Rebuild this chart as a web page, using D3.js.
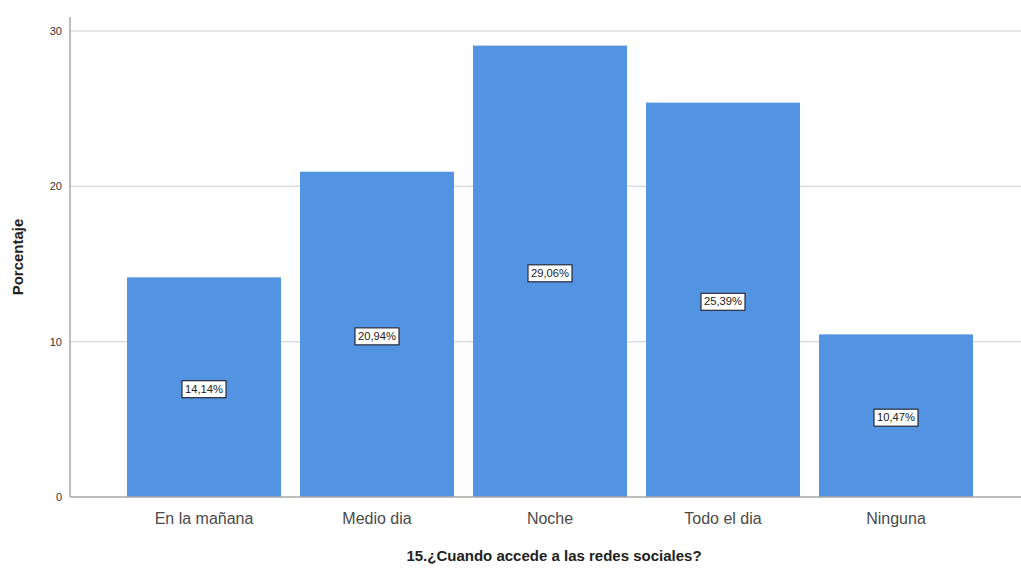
<!DOCTYPE html>
<html>
<head>
<meta charset="utf-8">
<script src="https://cdn.jsdelivr.net/npm/d3@7"></script>
<style>
  body { margin: 0; background: #fff; }
  svg { display: block; font-family: "Liberation Sans", Arial, sans-serif; }
</style>
</head>
<body>
<svg id="chart" width="1021" height="579"></svg>
<script>
const categories = ["En la mañana", "Medio dia", "Noche", "Todo el dia", "Ninguna"];
const percentages = [14.14, 20.94, 29.06, 25.39, 10.47];
const yTicks = [0, 10, 20, 30];

const svg = d3.select("#chart");
const axisX = 70, baseY = 497, topY = 17, rightX = 1021;

const x = d3.scaleBand()
  .domain(categories)
  .range([117.5, 982.5])
  .paddingInner(0.11)
  .paddingOuter(0.055);

const y = d3.scaleLinear().domain([0, 30]).range([baseY, 31]);

// gridlines
svg.append("g")
  .selectAll("line")
  .data(yTicks.filter(d => d > 0))
  .join("line")
  .attr("x1", axisX).attr("x2", rightX)
  .attr("y1", d => y(d)).attr("y2", d => y(d))
  .attr("stroke", "#dcdcdc").attr("stroke-width", 1.5);

// bars
svg.append("g")
  .selectAll("rect")
  .data(categories)
  .join("rect")
  .attr("x", d => x(d))
  .attr("width", x.bandwidth())
  .attr("y", (d, i) => y(percentages[i]))
  .attr("height", (d, i) => baseY - y(percentages[i]))
  .attr("fill", "#5294e2");

// axis lines
svg.append("line").attr("x1", axisX).attr("x2", axisX).attr("y1", topY).attr("y2", baseY)
  .attr("stroke", "#a8a8a8").attr("stroke-width", 1.5);
svg.append("line").attr("x1", axisX).attr("x2", rightX).attr("y1", baseY).attr("y2", baseY)
  .attr("stroke", "#a8a8a8").attr("stroke-width", 1.5);

// y tick labels
const yAxis = d3.axisLeft(y).tickValues(yTicks).tickSize(0).tickPadding(8);
const yg = svg.append("g").attr("transform", `translate(${axisX},0)`).call(yAxis);
yg.select(".domain").remove();
yg.selectAll("text").attr("font-size", 11).attr("fill", "#333")
  .attr("font-family", "Liberation Sans, Arial, sans-serif");

// x tick labels
const xAxis = d3.axisBottom(x).tickSize(0).tickPadding(16);
const xg = svg.append("g").attr("transform", `translate(0,${baseY})`).call(xAxis);
xg.select(".domain").remove();
xg.selectAll("text").attr("font-size", 16).attr("fill", "#4a4a4a")
  .attr("font-family", "Liberation Sans, Arial, sans-serif");

// value labels at half bar height
const fmt = v => v.toFixed(2).replace(".", ",") + "%";
const labels = svg.append("g").selectAll("g")
  .data(categories)
  .join("g")
  .attr("transform", (d, i) => `translate(${x(d) + x.bandwidth() / 2},${y(percentages[i] / 2) + 2})`);
labels.append("rect")
  .attr("x", -22).attr("y", -8.5).attr("width", 44).attr("height", 17)
  .attr("fill", "#fff").attr("stroke", "#2a2a3a").attr("stroke-width", 1.2);
labels.append("text")
  .attr("text-anchor", "middle").attr("dy", "0.35em")
  .attr("font-size", 10).attr("fill", "#222")
  .attr("textLength", 38).attr("lengthAdjust", "spacingAndGlyphs")
  .text((d, i) => fmt(percentages[i]));

// axis titles
svg.append("text")
  .attr("transform", `translate(23,${(topY + baseY) / 2}) rotate(-90)`)
  .attr("text-anchor", "middle")
  .attr("font-size", 15).attr("font-weight", "bold").attr("fill", "#222")
  .text("Porcentaje");

svg.append("text")
  .attr("x", 554).attr("y", 561)
  .attr("text-anchor", "middle")
  .attr("font-size", 15).attr("font-weight", "bold").attr("fill", "#222")
  .text("15.¿Cuando accede a las redes sociales?");
</script>
</body>
</html>
